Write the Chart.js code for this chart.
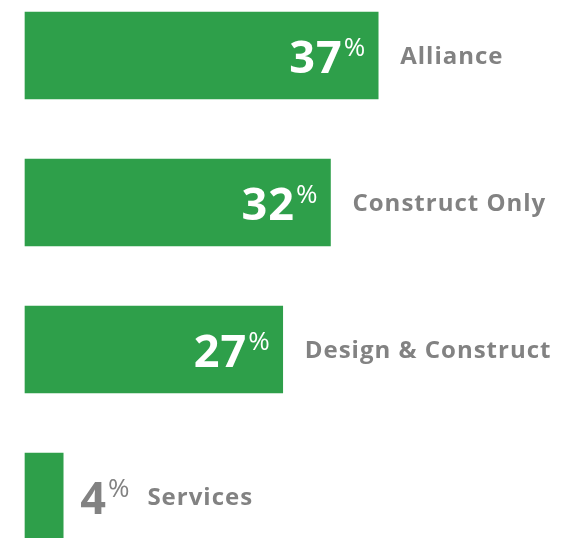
<!DOCTYPE html>
<html>
<head>
<meta charset="utf-8">
<script src="https://cdn.jsdelivr.net/npm/chart.js@4.4.1/dist/chart.umd.min.js"></script>
<style>
  html, body { margin: 0; padding: 0; background: #fff; overflow: hidden; }
</style>
</head>
<body>
<canvas id="myChart" width="564" height="538"></canvas>
<script>
const categories = ["Alliance", "Construct Only", "Design & Construct", "Services"];
const shares = [37, 32, 27, 4];

const green = "#2e9f4a";
const grey = "#828282";
const fontFamily = "'Open Sans', 'DejaVu Sans', sans-serif";

// draws the big % number + category name next to each bar
const labelPlugin = {
    id: "barLabels",
    afterDatasetsDraw(chart) {
        const ctx = chart.ctx;
        const bars = chart.getDatasetMeta(0).data;
        ctx.save();
        ctx.textBaseline = "alphabetic";
        ctx.textAlign = "left";
        bars.forEach((bar, i) => {
            const val = String(shares[i]);
            const end = bar.x;
            const cy = bar.y;
            ctx.letterSpacing = "1px";
            ctx.font = "bold 45px " + fontFamily;
            const numW = ctx.measureText(val).width - 1;
            ctx.letterSpacing = "0px";
            ctx.font = "26px " + fontFamily;
            const pctW = ctx.measureText("%").width;
            const wide = (end - bar.base) > numW + pctW + 30;

            let numX, txtColor;
            if (wide) {
                numX = end - 13 - pctW - 2 - numW;
                txtColor = "#fff";
            } else {
                numX = end + 17;
                txtColor = grey;
            }
            ctx.fillStyle = txtColor;
            ctx.letterSpacing = "1px";
            ctx.font = "bold 45px " + fontFamily;
            ctx.fillText(val, numX, cy + 17);
            ctx.letterSpacing = "0px";
            ctx.font = "26px " + fontFamily;
            ctx.fillText("%", numX + numW + 2, cy);

            // category name
            ctx.fillStyle = grey;
            ctx.letterSpacing = "1px";
            ctx.font = "bold 24px " + fontFamily;
            const lx = wide ? end + 22 : numX + numW + 2 + pctW + 18;
            ctx.fillText(categories[i], lx, cy + 8);
        });
        ctx.restore();
    }
};

new Chart(document.getElementById("myChart"), {
    type: "bar",
    data: {
        labels: categories,
        datasets: [{
            data: shares,
            backgroundColor: green,
            borderWidth: 0,
            barThickness: 87,
            clip: false
        }]
    },
    options: {
        indexAxis: "y",
        responsive: false,
        animation: false,
        layout: { padding: { left: 25, right: 14, top: 55.5, bottom: 41.5 } },
        plugins: { legend: { display: false }, tooltip: { enabled: false } },
        scales: {
            x: { min: 0, max: 55, display: false },
            y: { offset: false, display: false }
        }
    },
    plugins: [labelPlugin]
});
</script>
</body>
</html>
